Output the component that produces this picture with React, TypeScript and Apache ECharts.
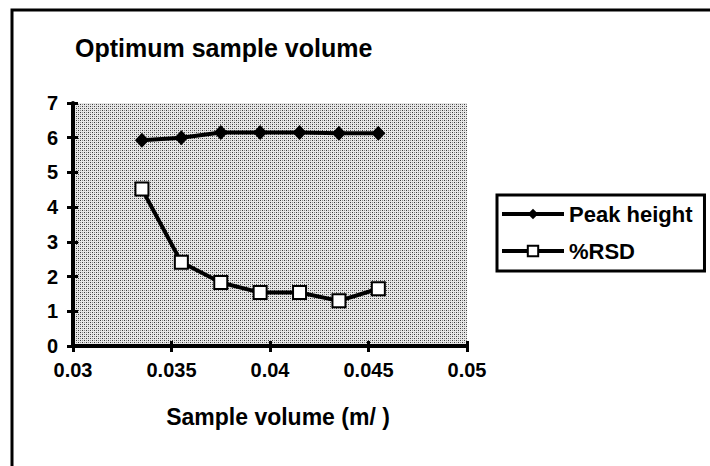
import React, { useEffect, useRef } from "react";
import * as echarts from "echarts";

const sampleVolume = [0.0335, 0.0355, 0.0375, 0.0395, 0.0415, 0.0435, 0.0455];
const peakHeight = [5.93, 6.0, 6.15, 6.15, 6.15, 6.13, 6.13];
const rsd = [4.52, 2.41, 1.83, 1.54, 1.54, 1.3, 1.65];
const seriesNames = ["Peak height", "%RSD"];
const titleText = "Optimum sample volume";
const xAxisTitle = "Sample volume (m/ )";

const FONT = "'Liberation Sans', Arial, sans-serif";

function makeTile(): HTMLCanvasElement {
  const c = document.createElement("canvas");
  c.width = 4;
  c.height = 4;
  const ctx = c.getContext("2d")!;
  ctx.fillStyle = "#e8e8e8";
  ctx.fillRect(0, 0, 4, 4);
  ctx.fillStyle = "#3a3a3a";
  ctx.fillRect(0, 0, 1, 1);
  ctx.fillRect(2, 2, 1, 1);
  ctx.fillStyle = "#8e8e8e";
  ctx.fillRect(2, 0, 1, 1);
  ctx.fillRect(0, 2, 1, 1);
  return c;
}

export default function App() {
  const ref = useRef<HTMLDivElement>(null);
  useEffect(() => {
    if (!ref.current) return;
    const chart = echarts.init(ref.current, null, { renderer: "svg" });
    const pts = (ys: number[]) => sampleVolume.map((x, i) => [x, ys[i]]);
    const tile = makeTile();
    const tickStyle = { color: "#000", width: 3 };
    chart.setOption({
      animation: false,
      backgroundColor: "#ffffff",
      title: {
        text: titleText,
        left: 75,
        top: 35,
        padding: 0,
        textStyle: { fontFamily: FONT, fontWeight: "bold", fontSize: 25, color: "#000" },
      },
      grid: {
        left: 73,
        right: 243,
        top: 103,
        bottom: 120,
        show: true,
        backgroundColor: { image: tile.toDataURL(), repeat: "repeat" },
        borderWidth: 0,
      },
      legend: {
        orient: "vertical",
        left: 497,
        top: 195,
        padding: [8, 12, 9, 3],
        itemGap: 15,
        itemWidth: 62,
        itemHeight: 13,
        borderColor: "#000",
        borderWidth: 3,
        data: seriesNames,
        lineStyle: { width: 4 },
        textStyle: { fontFamily: FONT, fontWeight: "bold", fontSize: 22, color: "#000" },
      },
      xAxis: [
        {
          type: "value",
          min: 0.03,
          max: 0.05,
          interval: 0.005,
          name: xAxisTitle,
          nameLocation: "middle",
          nameGap: 59,
          nameTextStyle: {
            fontFamily: FONT,
            fontWeight: "bold",
            fontSize: 23,
            color: "#000",
            padding: [0, 0, 0, 16],
          },
          axisLine: { show: true, lineStyle: { color: "#000", width: 4 } },
          axisTick: { show: true, length: 6, lineStyle: tickStyle },
          axisLabel: {
            margin: 14,
            fontFamily: FONT,
            fontWeight: "bold",
            fontSize: 20,
            color: "#000",
            formatter: (v: number) => String(parseFloat(v.toFixed(4))),
          },
          splitLine: { show: false },
        },
        {
          type: "value",
          position: "bottom",
          min: 0.03,
          max: 0.05,
          interval: 0.005,
          axisLine: { show: false },
          axisTick: { show: true, inside: true, length: 5, lineStyle: tickStyle },
          axisLabel: { show: false },
          splitLine: { show: false },
        },
      ],
      yAxis: [
        {
          type: "value",
          min: 0,
          max: 7,
          interval: 1,
          axisLine: { show: true, lineStyle: { color: "#000", width: 4 } },
          axisTick: { show: true, length: 6, lineStyle: tickStyle },
          axisLabel: {
            margin: 15,
            fontFamily: FONT,
            fontWeight: "bold",
            fontSize: 20,
            color: "#000",
          },
          splitLine: { show: false },
        },
        {
          type: "value",
          position: "left",
          min: 0,
          max: 7,
          interval: 1,
          axisLine: { show: false },
          axisTick: { show: true, inside: true, length: 5, lineStyle: tickStyle },
          axisLabel: { show: false },
          splitLine: { show: false },
        },
      ],
      graphic: [
        {
          type: "rect",
          shape: { x: 12, y: 10, width: 760, height: 520 },
          style: { fill: "none", stroke: "#000", lineWidth: 3 },
          silent: true,
        },
      ],
      series: [
        {
          name: seriesNames[0],
          type: "line",
          xAxisIndex: 0,
          yAxisIndex: 0,
          data: pts(peakHeight),
          symbol: "diamond",
          symbolSize: [14, 15],
          lineStyle: { color: "#000", width: 4 },
          itemStyle: { color: "#000", borderColor: "#000", borderWidth: 0 },
        },
        {
          name: seriesNames[1],
          type: "line",
          xAxisIndex: 0,
          yAxisIndex: 0,
          data: pts(rsd),
          symbol: "rect",
          symbolSize: 13,
          lineStyle: { color: "#000", width: 4 },
          itemStyle: { color: "#fff", borderColor: "#000", borderWidth: 2 },
        },
      ],
    });
    return () => chart.dispose();
  }, []);
  return <div ref={ref} style={{ width: 710, height: 466, position: "absolute", left: 0, top: 0 }} />;
}
